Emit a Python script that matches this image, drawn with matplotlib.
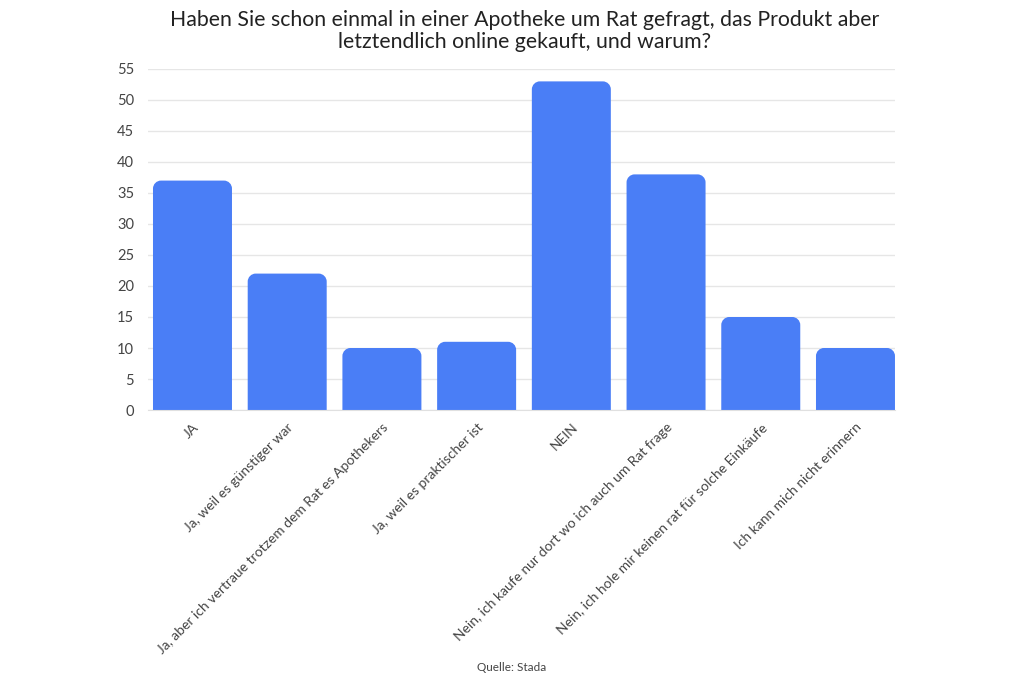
import matplotlib.pyplot as plt
from matplotlib.path import Path
from matplotlib.patches import PathPatch

plt.rcParams['font.family'] = ['Lato', 'DejaVu Sans']

categories = [
    'JA',
    'Ja, weil es günstiger war',
    'Ja, aber ich vertraue trotzem dem Rat es Apothekers',
    'Ja, weil es praktischer ist',
    'NEIN',
    'Nein, ich kaufe nur dort wo ich auch um Rat frage',
    'Nein, ich hole mir keinen rat für solche Einkäufe',
    'Ich kann mich nicht erinnern',
]
values = [37, 22, 10, 11, 53, 38, 15, 10]
yticks = [0, 5, 10, 15, 20, 25, 30, 35, 40, 45, 50, 55]

title = ('Haben Sie schon einmal in einer Apotheke um Rat gefragt, das Produkt aber\n'
         'letztendlich online gekauft, und warum?')
bar_color = '#4a7ef6'


def rounded_top(x0, w, h, rx, ry):
    # bar outline with rounded top corners, radius given in data units per axis
    k = 0.5523
    x1 = x0 + w
    verts = [(x0, 0), (x0, h - ry),
             (x0, h - ry + k * ry), (x0 + rx - k * rx, h), (x0 + rx, h),
             (x1 - rx, h),
             (x1 - rx + k * rx, h), (x1, h - ry + k * ry), (x1, h - ry),
             (x1, 0), (x0, 0)]
    codes = [Path.MOVETO, Path.LINETO,
             Path.CURVE4, Path.CURVE4, Path.CURVE4,
             Path.LINETO,
             Path.CURVE4, Path.CURVE4, Path.CURVE4,
             Path.LINETO, Path.CLOSEPOLY]
    return Path(verts, codes)


fig = plt.figure(figsize=(10.24, 6.83), dpi=100)
ax = fig.add_axes([0.1445, 0.3997, 0.7295, 0.4993])

bars = ax.bar(range(len(values)), values, width=0.834, color=bar_color, zorder=2)
ax.set_xlim(-0.47, len(values) - 0.583)
ax.set_ylim(0, 55)

# swap plain rectangles for rounded-top shapes (~8 px corner radius)
fig.canvas.draw()
bbox = ax.get_window_extent()
px_x = bbox.width / (ax.get_xlim()[1] - ax.get_xlim()[0])
px_y = bbox.height / (ax.get_ylim()[1] - ax.get_ylim()[0])
for b in bars:
    b.set_visible(False)
    path = rounded_top(b.get_x(), b.get_width(), b.get_height(), 8 / px_x, 8 / px_y)
    ax.add_patch(PathPatch(path, facecolor=bar_color, edgecolor='none', zorder=2))

ax.set_yticks(yticks)
ax.set_xticks(range(len(values)))
ax.set_xticklabels(categories, rotation=45, ha='right', rotation_mode='anchor',
                   fontsize=10, color='#444444')
ax.tick_params(axis='y', labelsize=10.5, labelcolor='#444444', length=0, pad=10)
ax.tick_params(axis='x', length=0, pad=8)
ax.grid(axis='y', color='#e6e6e6', linewidth=1, zorder=0)
for s in ['top', 'right', 'left']:
    ax.spines[s].set_visible(False)
ax.spines['bottom'].set_color('#e0e0e0')

fig.text(0.512, 0.986, title, ha='center', va='top', fontsize=15.3,
         color='#222222', linespacing=1.15)
fig.text(0.5, 0.023, 'Quelle: Stada', ha='center', va='center', fontsize=8.5,
         color='#444444')

fig.savefig('out.png', dpi=100)
